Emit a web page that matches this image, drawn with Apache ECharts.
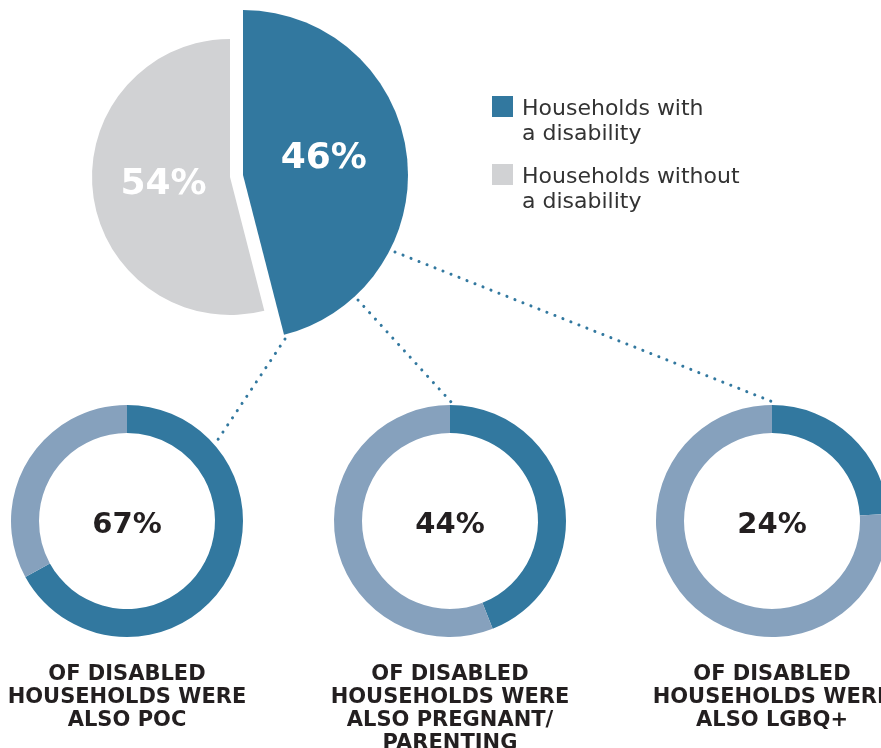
<!DOCTYPE html>
<html>
<head>
<meta charset="utf-8">
<script src="https://cdn.jsdelivr.net/npm/echarts@6/dist/echarts.min.js"></script>
<style>
  html, body { margin: 0; padding: 0; background: #fff; }
  #chart { width: 881px; height: 748px; }
</style>
</head>
<body>
<div id="chart"></div>
<script>
const mainNames = ['Households with a disability', 'Households without a disability'];
const mainValues = [46, 54];

const subLabels = [
  'OF DISABLED\nHOUSEHOLDS WERE\nALSO POC',
  'OF DISABLED\nHOUSEHOLDS WERE\nALSO PREGNANT/\nPARENTING',
  'OF DISABLED\nHOUSEHOLDS WERE\nALSO LGBQ+'
];
const subValues = [67, 44, 24];

const BLUE = '#32789f';
const LIGHT_BLUE = '#86a1bd';
const GRAY = '#d1d2d4';
const TEXT = '#231f20';
const FONT = '"DejaVu Sans", sans-serif';

const chart = echarts.init(document.getElementById('chart'));

// the two halves of the top pie are drawn as separate series so the blue one can pop out
function mainSeries(idx, center, radius, color, dx, dy) {
  return {
    type: 'pie',
    center: center,
    radius: radius,
    startAngle: 90,
    silent: true,
    animation: false,
    labelLayout: { dx: dx, dy: dy },
    data: mainValues.map((v, i) => ({
      value: v,
      name: mainNames[i],
      itemStyle: { color: i === idx ? color : 'transparent' },
      label: {
        show: i === idx,
        position: 'inside',
        formatter: '{c}%',
        color: '#fff',
        fontFamily: FONT,
        fontWeight: 'bold',
        fontSize: 36
      }
    }))
  };
}

const donutCenters = [[127, 521], [450, 521], [772, 521]];

const donuts = subValues.map((v, k) => ({
  type: 'pie',
  center: donutCenters[k],
  radius: [88, 116],
  startAngle: 90,
  silent: true,
  animation: false,
  labelLayout: { dy: 4 },
  data: [
    {
      value: v,
      name: 'yes' + k,
      itemStyle: { color: BLUE },
      label: {
        show: true,
        position: 'center',
        formatter: '{c}%',
        color: TEXT,
        fontFamily: FONT,
        fontWeight: 'bold',
        fontSize: 29
      }
    },
    { value: 100 - v, name: 'no' + k, itemStyle: { color: LIGHT_BLUE }, label: { show: false } }
  ]
}));

const dotted = { stroke: BLUE, lineWidth: 3, lineDash: [0.1, 8.5], lineCap: 'round' };
const connectors = [
  [285, 339, 217, 441],
  [358, 300, 452, 403],
  [395, 252, 773, 402]
];

// legend drawn by hand so the swatch lines up with the first text line
const legendColors = [BLUE, GRAY];
const legendTops = [96, 164];
const legendItems = mainNames.flatMap((name, i) => [
  {
    type: 'rect',
    silent: true,
    shape: { x: 492, y: legendTops[i], width: 21, height: 21 },
    style: { fill: legendColors[i] }
  },
  {
    type: 'text',
    silent: true,
    x: 522,
    y: legendTops[i] + 1,
    style: {
      text: name.replace(/ (a disability)$/, '\n$1'),
      fill: '#333',
      font: '22px ' + FONT,
      lineHeight: 25,
      verticalAlign: 'top'
    }
  }
]);

chart.setOption({
  backgroundColor: '#fff',
  graphic: [
    ...connectors.map((c) => ({
      type: 'line',
      silent: true,
      shape: { x1: c[0], y1: c[1], x2: c[2], y2: c[3] },
      style: dotted,
      z: -1
    })),
    ...legendItems,
    ...subLabels.map((t, k) => ({
      type: 'text',
      silent: true,
      x: donutCenters[k][0],
      y: 663,
      style: {
        text: t,
        textAlign: 'center',
        fill: TEXT,
        font: 'bold 21px ' + FONT,
        lineHeight: 23
      }
    }))
  ],
  series: [
    mainSeries(1, [230, 177], 138, GRAY, 5, -1),
    mainSeries(0, [243, 175], 165, BLUE, -4, -6),
    ...donuts
  ]
});
</script>
</body>
</html>
